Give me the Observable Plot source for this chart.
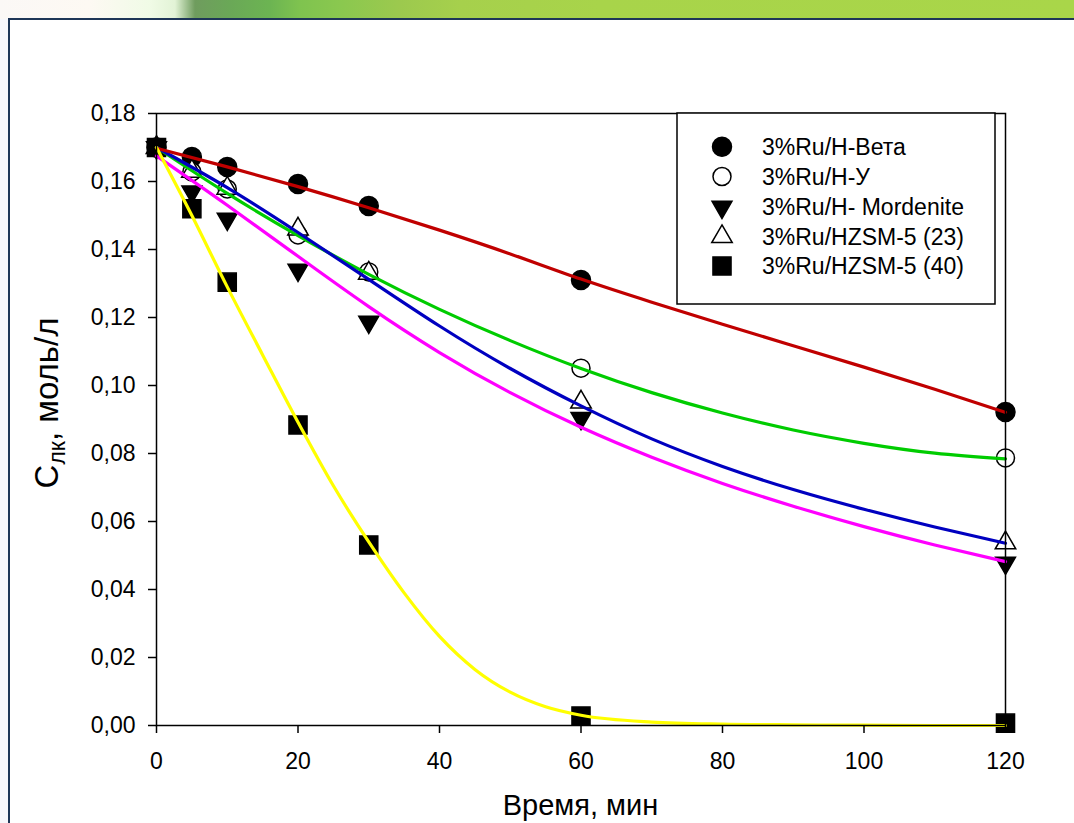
<!DOCTYPE html>
<html>
<head>
<meta charset="utf-8">
<script src="https://cdn.jsdelivr.net/npm/d3@7"></script>
<script src="https://cdn.jsdelivr.net/npm/@observablehq/plot@0.6"></script>
<style>
  html, body { margin: 0; padding: 0; }
  body { width: 1074px; height: 823px; overflow: hidden; position: relative; background: #f7f7fb; font-family: "Liberation Sans", Arial, sans-serif; }
  #band { position: absolute; left: 0; top: 0; width: 1074px; height: 19px;
    background: linear-gradient(to right, #fbf8f6 0px, #fdf9f3 90px, #f0fbe6 150px, #e2f3d6 175px, #6f9c5e 195px, #6aa857 230px, #6cb452 270px, #7fc34f 300px, #8ac84f 340px, #9cc94e 400px, #a6d04c 460px, #a8d44a 600px, #a9d649 1074px); }
  #panel { position: absolute; left: 8px; top: 18px; width: 1100px; height: 840px; background: #ffffff; border-top: 2px solid #1e3657; border-left: 2px solid #1e3657; }
  #chart { position: absolute; left: 0; top: 0; }
</style>
</head>
<body>
<div id="band"></div>
<div id="panel"></div>
<div id="chart"></div>
<script>
// ---- data ----
const times = [0, 5, 10, 20, 30, 60, 120];

const seriesNames = ["3%Ru/H-Вета", "3%Ru/H-У", "3%Ru/H- Mordenite", "3%Ru/HZSM-5 (23)", "3%Ru/HZSM-5 (40)"];

const betaValues      = [0.170, 0.1672, 0.1643, 0.1593, 0.1528, 0.1310, 0.0922];
const yValues         = [0.170, 0.1628, 0.1578, 0.1443, 0.1334, 0.1051, 0.0787];
const mordeniteValues = [0.170, 0.1570, 0.1490, 0.1340, 0.1187, 0.0904, 0.0478];
const zsm23Values     = [0.170, 0.1630, 0.1580, 0.1460, 0.1330, 0.0951, 0.0537];
const zsm40Values     = [0.170, 0.1520, 0.1304, 0.0884, 0.0531, 0.0028, 0.0007];

// fitted curves
const fitTimes        = [0, 10, 20, 30, 40, 50, 60, 70, 80, 90, 100, 110, 120];
const betaFit         = [0.1698, 0.1643, 0.1585, 0.1523, 0.1457, 0.1387, 0.1313, 0.1245, 0.1180, 0.1117, 0.1054, 0.0989, 0.0921];
const yFit            = [0.1700, 0.1565, 0.1441, 0.1327, 0.1224, 0.1132, 0.1050, 0.0979, 0.0919, 0.0869, 0.0830, 0.0801, 0.0784];
const mordeniteFit    = [0.1675, 0.1530, 0.1380, 0.1232, 0.1097, 0.0979, 0.0877, 0.0789, 0.0712, 0.0645, 0.0585, 0.0531, 0.0482];
const zsm23Fit        = [0.1700, 0.1582, 0.1450, 0.1312, 0.1175, 0.1050, 0.0940, 0.0843, 0.0762, 0.0694, 0.0636, 0.0584, 0.0536];
const zsm40FitTimes   = [0, 5, 10, 15, 20, 25, 30, 35, 40, 45, 50, 55, 60, 70, 80, 90, 100, 110, 120];
const zsm40Fit        = [0.1700, 0.1500, 0.1290, 0.1090, 0.0892, 0.0705, 0.0540, 0.0390, 0.0262, 0.0165, 0.0098, 0.0055, 0.0030, 0.0010, 0.0004, 0.0002, 0.0001, 0.0000, 0.0000];

const lineColors = ["#c00000", "#00cc00", "#ff00ff", "#0000c0", "#ffff00"];

const xTicks = [0, 20, 40, 60, 80, 100, 120];
const yTicks = [0, 0.02, 0.04, 0.06, 0.08, 0.10, 0.12, 0.14, 0.16, 0.18];

const xTitle = "Время, мин";
const yTitleMain = "C";
const yTitleSub = "лк";
const yTitleRest = ", моль/л";

// ---- symbols ----
const sqrt3 = Math.sqrt(3);
const triangleDown = {
  draw(context, size) {
    const y = Math.sqrt(size / (sqrt3 * 3));
    context.moveTo(0, y * 2);
    context.lineTo(-sqrt3 * y, -y);
    context.lineTo(sqrt3 * y, -y);
    context.closePath();
  }
};

const series = [
  {name: seriesNames[0], values: betaValues,      fitT: fitTimes,      fit: betaFit,      color: lineColors[0], symbol: "circle",   fill: "black", r: 9.5, curve: "natural"},
  {name: seriesNames[1], values: yValues,         fitT: fitTimes,      fit: yFit,         color: lineColors[1], symbol: "circle",   fill: "white", r: 9,   curve: "natural"},
  {name: seriesNames[2], values: mordeniteValues, fitT: fitTimes,      fit: mordeniteFit, color: lineColors[2], symbol: triangleDown, fill: "black", r: 7.4, curve: "natural"},
  {name: seriesNames[3], values: zsm23Values,     fitT: fitTimes,      fit: zsm23Fit,     color: lineColors[3], symbol: "triangle", fill: "white", r: 7.6, curve: "natural"},
  {name: seriesNames[4], values: zsm40Values,     fitT: zsm40FitTimes, fit: zsm40Fit,     color: lineColors[4], symbol: "square",   fill: "black", r: 10.2, curve: "monotone-x"}
];

const pointData = series.map(s => times.map((t, i) => ({t, c: s.values[i], name: s.name})));
const fitData = series.map(s => s.fitT.map((t, i) => ({t, c: s.fit[i], name: s.name})));

const fmt = d => d.toFixed(2).replace(".", ",");

const dotMarks = series.map((s, k) => Plot.dot(pointData[k], {
  x: "t", y: "c", symbol: () => s.symbol, r: s.r,
  fill: s.fill, stroke: "black", strokeWidth: 1.5
}));

const lineOrder = [1, 3, 2, 0, 4];
const lineMarks = lineOrder.map(k => Plot.line(fitData[k], {
  x: "t", y: "c", stroke: series[k].color, strokeWidth: 3.2, curve: series[k].curve
}));

const chart = Plot.plot({
  width: 1074,
  height: 823,
  marginLeft: 156,
  marginRight: 69,
  marginTop: 113,
  marginBottom: 98,
  style: {background: "transparent", fontFamily: "'Liberation Sans', Arial, sans-serif", color: "black", overflow: "visible"},
  x: {domain: [0, 120]},
  y: {domain: [0, 0.18]},
  symbol: {type: "identity"},
  marks: [
    ...dotMarks,
    ...lineMarks,
    Plot.frame({stroke: "black", strokeWidth: 1.5}),
    Plot.axisX({ticks: xTicks, tickSize: 8, tickPadding: 19, fontSize: 23, strokeWidth: 1.5, label: null}),
    Plot.axisY({ticks: yTicks, tickSize: 8, tickPadding: 13, fontSize: 23, strokeWidth: 1.5, tickFormat: fmt, label: null})
  ]
});

document.getElementById("chart").appendChild(chart);

// ---- titles and legend ----
const svg = d3.select(chart);
const font = "'Liberation Sans', Arial, sans-serif";

svg.append("text")
  .attr("x", 580.5).attr("y", 815)
  .attr("text-anchor", "middle")
  .attr("font-family", font).attr("font-size", 29).attr("fill", "black")
  .text(xTitle);

const yt = svg.append("text")
  .attr("transform", "translate(58,403) rotate(-90)")
  .attr("text-anchor", "middle")
  .attr("font-family", font).attr("font-size", 33).attr("fill", "black");
yt.append("tspan").text(yTitleMain);
yt.append("tspan").attr("font-size", 23).attr("dy", 7).text(yTitleSub);
yt.append("tspan").attr("dy", -7).text(yTitleRest);

const legend = svg.append("g").attr("text-anchor", "start");
legend.append("rect")
  .attr("x", 677).attr("y", 113).attr("width", 318).attr("height", 191)
  .attr("fill", "white").attr("stroke", "black").attr("stroke-width", 1.5);
const rowY = [146.7, 176.5, 207, 236.7, 266];
series.forEach((s, i) => {
  const sym = typeof s.symbol === "string"
    ? ({circle: d3.symbolCircle, triangle: d3.symbolTriangle, square: d3.symbolSquare})[s.symbol]
    : s.symbol;
  legend.append("path")
    .attr("transform", `translate(722,${rowY[i]})`)
    .attr("d", d3.symbol(sym, Math.PI * s.r * s.r)())
    .attr("fill", s.fill).attr("stroke", "black").attr("stroke-width", 1.5);
  legend.append("text")
    .attr("x", 762).attr("y", rowY[i]).attr("dy", "0.35em")
    .attr("text-anchor", "start")
    .attr("font-family", font).attr("font-size", 23).attr("fill", "black")
    .text(s.name);
});
</script>
</body>
</html>
